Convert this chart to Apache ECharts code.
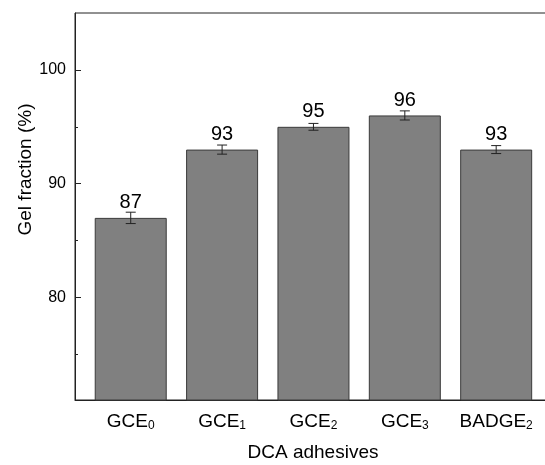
<!DOCTYPE html>
<html>
<head>
<meta charset="utf-8">
<script src="https://cdn.jsdelivr.net/npm/echarts@6/dist/echarts.min.js"></script>
<style>
  html, body { margin: 0; padding: 0; background: #fff; }
  #chart { width: 545px; height: 465px; }
</style>
</head>
<body>
<div id="chart"></div>
<script>
const FONT = 'Liberation Sans, Arial, sans-serif'

const categories = ['GCE{sub|0}', 'GCE{sub|1}', 'GCE{sub|2}', 'GCE{sub|3}', 'BADGE{sub|2}']
const positions = [1, 2, 3, 4, 5]
const gelFraction = [87, 93, 95, 96, 93]
const errors = [0.5, 0.4, 0.3, 0.4, 0.35]
const yMajorTicks = [80, 90, 100]
const yMinorTicks = [75, 85, 95]

const chart = echarts.init(document.getElementById('chart'))

const barData = positions.map((p, i) => [p, gelFraction[i]])
const errData = positions.map((p, i) => [p, gelFraction[i] - errors[i], gelFraction[i] + errors[i]])

const axisColor = '#222'

const option = {
  backgroundColor: '#fff',
  animation: false,
  grid: {
    left: 75,
    width: 476,
    top: 13,
    bottom: 65,
    outerBoundsMode: 'none',
    containLabel: false,
    show: true,
    borderColor: axisColor,
    borderWidth: 1,
  },
  xAxis: {
    type: 'value',
    min: 0.39,
    max: 5.6,
    name: 'DCA adhesives',
    nameLocation: 'middle',
    nameGap: 43,
    nameMoveOverlap: false,
    nameTextStyle: { fontFamily: FONT, fontSize: 19, color: '#000' },
    splitLine: { show: false },
    axisLine: { lineStyle: { color: axisColor, width: 1 } },
    axisTick: {
      show: true,
      inside: true,
      length: 6,
      customValues: positions,
      lineStyle: { color: axisColor },
    },
    axisLabel: {
      customValues: positions,
      margin: 10,
      formatter: (v) => categories[positions.indexOf(Math.round(v))] || '',
      fontFamily: FONT,
      fontSize: 19,
      color: '#000',
      lineHeight: 24,
      rich: {
        sub: { fontFamily: FONT, fontSize: 12, color: '#000', lineHeight: 24, padding: [8, 0, 0, 0] },
      },
    },
  },
  yAxis: [
    {
      type: 'value',
      min: 71,
      max: 105,
      name: 'Gel fraction (%)',
      nameLocation: 'middle',
      nameGap: 40,
      nameMoveOverlap: false,
      nameTextStyle: { fontFamily: FONT, fontSize: 19, color: '#000', padding: [0, 0, 0, 74] },
      splitLine: { show: false },
      axisLine: { show: true, lineStyle: { color: axisColor, width: 1 } },
      axisTick: {
        show: true,
        inside: true,
        length: 6,
        customValues: yMajorTicks,
        lineStyle: { color: axisColor },
      },
      axisLabel: {
        customValues: yMajorTicks,
        margin: 9,
        fontFamily: FONT,
        fontSize: 16,
        color: '#000',
      },
    },
    {
      type: 'value',
      min: 71,
      max: 105,
      position: 'left',
      splitLine: { show: false },
      axisLine: { show: false },
      axisLabel: { show: false },
      axisTick: {
        show: true,
        inside: true,
        length: 3,
        customValues: yMinorTicks,
        lineStyle: { color: axisColor },
      },
    },
  ],
  series: [
    {
      type: 'bar',
      data: barData,
      barWidth: 72,
      itemStyle: { color: '#808080', borderColor: '#3a3a3a', borderWidth: 1 },
      label: {
        show: true,
        position: 'top',
        distance: 5,
        fontFamily: FONT,
        fontSize: 20,
        color: '#000',
        formatter: (p) => p.value[1],
      },
      z: 2,
    },
    {
      type: 'custom',
      data: errData,
      z: 3,
      renderItem: (params, api) => {
        const x = api.value(0)
        const lo = api.coord([x, api.value(1)])
        const hi = api.coord([x, api.value(2)])
        const hw = 5
        const style = { stroke: '#222', lineWidth: 1 }
        return {
          type: 'group',
          children: [
            { type: 'line', shape: { x1: lo[0], y1: lo[1], x2: hi[0], y2: hi[1] }, style },
            { type: 'line', shape: { x1: lo[0] - hw, y1: lo[1], x2: lo[0] + hw, y2: lo[1] }, style },
            { type: 'line', shape: { x1: hi[0] - hw, y1: hi[1], x2: hi[0] + hw, y2: hi[1] }, style },
          ],
        }
      },
    },
  ],
}

chart.setOption(option)
</script>
</body>
</html>
